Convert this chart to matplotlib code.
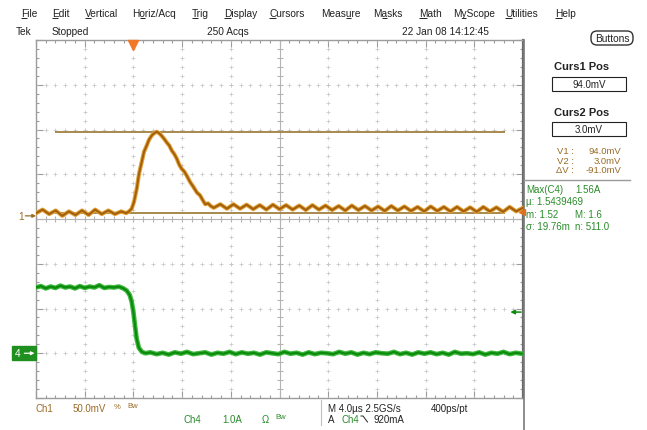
import matplotlib
matplotlib.use("Agg")
import matplotlib.pyplot as plt
from matplotlib.patches import Rectangle, FancyBboxPatch
import numpy as np

plt.rcParams['font.family'] = ['Liberation Sans', 'DejaVu Sans']

# ---------------- scope settings ----------------
T_DIV = 4.0          # µs / div
T_LEFT = -8.0        # µs at left edge of screen
N_HDIV, N_VDIV = 10, 8
CH1_SCALE = 50.0     # mV / div
CH1_OFFSET = 0.07    # div (ground marker position)
CH4_SCALE = 1.0      # A / div
CH4_OFFSET = -3.0    # div
CURS1_MV = 94.0
CURS2_MV = 3.0
TRIG_LEVEL_A = 0.92

# ---------------- waveforms ----------------
ch1_t = [-8.00, -7.46, -6.92, -6.38, -5.84, -5.30, -4.76, -4.22, -3.68, -3.14,
         -2.60, -2.06, -1.52, -1.00, -0.60, -0.36, -0.14,
         0.05, 0.27, 0.46, 0.68, 0.87, 1.09, 1.28, 1.50, 1.69, 1.91,
         2.10, 2.32, 2.53, 2.74, 2.95, 3.15, 3.36, 3.56, 3.77, 3.97,
         4.18, 4.38, 4.65, 4.92, 5.22, 5.47, 5.72, 5.90, 6.13, 6.35, 6.60,
         7.14, 7.68, 8.22, 8.76, 9.30, 9.84, 10.38, 10.92, 11.46, 12.00,
         12.54, 13.08, 13.62, 14.16, 14.70, 15.24, 15.78, 16.32, 16.86, 17.40,
         17.94, 18.48, 19.02, 19.56, 20.10, 20.64, 21.18, 21.72, 22.26, 22.80,
         23.34, 23.88, 24.42, 24.96, 25.50, 26.04, 26.58, 27.12, 27.66, 28.20,
         28.74, 29.28, 29.82, 30.36, 30.90, 31.44, 32.00]
ch1_mv = [3, 7, 2, 6, 0, 5, 1, 6, 1, 7,
          2, 6, 2, 5, 3, 5, 8,
          15.6, 30, 47, 60, 71.5, 78.5, 85, 89.7, 92.2, 94,
          92.5, 89.5, 86, 82, 78.5, 73, 69, 64, 57, 52.5,
          49.5, 45, 38, 32.5, 26, 23, 17, 13, 14, 11, 9,
          13, 8, 13, 8, 12.5, 7.5, 12, 7, 12.5, 7.5,
          12, 7, 11.5, 6.5, 12, 7, 11.5, 6.5, 11, 6,
          11.5, 6.5, 11, 6, 10.5, 5.5, 11, 6, 10.5, 5.5,
          10, 5, 10.5, 5.5, 10, 5, 10, 5, 9.5, 4.5,
          10, 5, 9.5, 4.5, 10, 5, 9]

ch4_t = [-8.0, -7.6, -7.2, -6.8, -6.4, -6.0, -5.6, -5.2, -4.8, -4.4,
         -4.0, -3.6, -3.2, -2.8, -2.4, -2.0, -1.6, -1.2,
         -0.83, -0.55, -0.30, -0.14, 0.0, 0.13, 0.27, 0.45, 0.70, 1.0,
         1.4, 1.9, 2.4, 2.9, 3.4, 3.9, 4.4, 4.9, 5.4, 5.9,
         6.4, 6.9, 7.4, 7.9, 8.4, 8.9, 9.4, 9.9, 10.4, 10.9,
         11.4, 11.9, 12.4, 12.9, 13.4, 13.9, 14.4, 14.9, 15.4, 15.9,
         16.4, 16.9, 17.4, 17.9, 18.4, 18.9, 19.4, 19.9, 20.4, 20.9,
         21.4, 21.9, 22.4, 22.9, 23.4, 23.9, 24.4, 24.9, 25.4, 25.9,
         26.4, 26.9, 27.4, 27.9, 28.4, 28.9, 29.4, 29.9, 30.4, 30.9,
         31.4, 31.9]
ch4_a = [1.47, 1.50, 1.45, 1.49, 1.46, 1.51, 1.47, 1.49, 1.45, 1.50,
         1.46, 1.49, 1.47, 1.52, 1.46, 1.48, 1.47, 1.49,
         1.45, 1.40, 1.30, 1.15, 0.92, 0.62, 0.32, 0.12, 0.03, 0.00,
         0.02, -0.02, 0.01, -0.03, 0.02, -0.01, 0.03, -0.02, 0.00, 0.02,
         -0.03, 0.01, -0.01, 0.03, -0.02, 0.02, -0.01, 0.01, -0.03, 0.02,
         0.00, -0.02, 0.03, -0.01, 0.01, -0.03, 0.02, -0.02, 0.01, 0.00,
         -0.02, 0.03, -0.01, 0.02, -0.03, 0.01, -0.02, 0.02, 0.00, -0.01,
         0.03, -0.02, 0.01, -0.03, 0.02, -0.01, 0.02, -0.02, 0.01, -0.03,
         0.03, -0.01, 0.00, -0.02, 0.02, -0.03, 0.01, -0.01, 0.03, -0.02,
         0.01, -0.01]

menu_items = ["File", "Edit", "Vertical", "Horiz/Acq", "Trig", "Display", "Cursors",
              "Measure", "Masks", "Math", "MyScope", "Utilities", "Help"]
menu_hotkeys = [0, 0, 0, 1, 0, 0, 0, 4, 1, 0, 1, 0, 0]
menu_x = [21, 52, 85, 132, 192, 224, 269, 321, 373, 419, 453, 505, 555]

meas_rows = [("Max(C4)", "1.56A"), ("\u00b5: 1.5439469", ""),
             ("m: 1.52", "M: 1.6"), ("\u03c3: 19.76m", "n: 511.0")]

# ---------------- colours ----------------
BROWN_TXT = '#9a6b28'
GREEN_TXT = '#2a8c2a'
CH1_OUT, CH1_IN = '#e2a43a', '#a45f0c'
CH4_OUT, CH4_IN = '#3fb83f', '#0b8a0b'
CURSOR = '#a08040'
GRID = '#c4c4c4'
FRAME = '#9c9c9c'
DARK = '#222222'

W, H = 647, 431
L, R, T, B = 36, 523, 41, 399

fig = plt.figure(figsize=(W / 100, H / 100), dpi=100)
fig.patch.set_facecolor('white')

ax = fig.add_axes([L / W, 1 - B / H, (R - L) / W, (B - T) / H])
t_right = T_LEFT + N_HDIV * T_DIV
ax.set_xlim(T_LEFT, t_right)
ax.set_ylim(-N_VDIV / 2, N_VDIV / 2)
ax.set_xticks(np.arange(T_LEFT, t_right + 0.01, T_DIV))
ax.set_xticks(np.arange(T_LEFT, t_right + 0.01, T_DIV / 5), minor=True)
ax.set_yticks(np.arange(-4, 4.01, 1))
ax.set_yticks(np.arange(-4, 4.01, 0.2), minor=True)
ax.tick_params(which='both', direction='in', top=True, right=True, bottom=True, left=True,
               labelbottom=False, labelleft=False, color=FRAME, width=0.8)
ax.tick_params(which='major', length=5)
ax.tick_params(which='minor', length=2.5)
for s in ax.spines.values():
    s.set_color(FRAME)
    s.set_linewidth(1.0)
ax.spines['right'].set_color('#6a6a6a')
ax.spines['right'].set_linewidth(1.6)

# graticule: dotted division lines
t_center = T_LEFT + N_HDIV / 2 * T_DIV
ys_fine = np.arange(-4, 4.01, 0.2)
ts_fine = np.arange(T_LEFT, t_right + 0.01, T_DIV / 5)
for k in range(1, N_HDIV):
    tv = T_LEFT + k * T_DIV
    if abs(tv - t_center) < 1e-6:
        continue
    ax.plot([tv] * len(ys_fine), ys_fine, ls='none', marker='+', ms=2.6, mew=0.5, color=GRID)
for yv in [-3, -2, -1, 1, 2, 3]:
    ax.plot(ts_fine, [yv] * len(ts_fine), ls='none', marker='+', ms=2.6, mew=0.5, color=GRID)
# centre lines with tick marks
ax.axvline(t_center, color='#b4b4b4', lw=0.8)
ax.axhline(0, color='#b4b4b4', lw=0.8)
ax.plot([t_center] * len(ys_fine), ys_fine, ls='none', marker='_', ms=5, mew=0.8, color='#b4b4b4')
ax.plot(ts_fine, [0] * len(ts_fine), ls='none', marker='|', ms=5, mew=0.8, color='#b4b4b4')

# cursors
for mv in (CURS1_MV, CURS2_MV):
    ax.hlines(mv / CH1_SCALE + CH1_OFFSET, -6.4, 30.5, color=CURSOR, lw=1.3, zorder=3)

# traces
y1 = np.array(ch1_mv) / CH1_SCALE + CH1_OFFSET
y4 = np.array(ch4_a) / CH4_SCALE + CH4_OFFSET
ax.plot(ch1_t, y1, color=CH1_OUT, lw=3.0, solid_joinstyle='round', zorder=4)
ax.plot(ch1_t, y1, color=CH1_IN, lw=1.5, solid_joinstyle='round', zorder=5)
ax.plot(ch4_t, y4, color=CH4_OUT, lw=3.4, solid_joinstyle='round', zorder=4)
ax.plot(ch4_t, y4, color=CH4_IN, lw=1.6, solid_joinstyle='round', zorder=5)

# trigger position and level markers
ax.plot([0], [0.985], marker='v', ms=7, color='#f07828', mec='#f07828',
        transform=ax.get_xaxis_transform(), clip_on=False, zorder=6)
trig_y = TRIG_LEVEL_A / CH4_SCALE + CH4_OFFSET
ax.annotate('', xy=(0.974, trig_y), xycoords=('axes fraction', 'data'),
            xytext=(0.996, trig_y), textcoords=('axes fraction', 'data'),
            arrowprops=dict(arrowstyle='-|>', color=CH4_IN, lw=1.1, mutation_scale=6,
                            shrinkA=0, shrinkB=0),
            annotation_clip=False)

# channel ground markers
yt = ax.get_yaxis_transform()
ax.text(-0.025, CH1_OFFSET, '1', transform=yt, ha='right', va='center', fontsize=7.3,
        color=BROWN_TXT, clip_on=False)
ax.annotate('', xy=(0.0, CH1_OFFSET), xycoords=yt, xytext=(-0.022, CH1_OFFSET),
            textcoords=yt, arrowprops=dict(arrowstyle='-|>', color=BROWN_TXT, lw=0.9,
                                           mutation_scale=5, shrinkA=0, shrinkB=0),
            annotation_clip=False)
ax.add_patch(Rectangle((-0.05, CH4_OFFSET - 0.16), 0.05, 0.32, transform=yt,
                       color='#1f8f1f', clip_on=False, zorder=6))
ax.text(-0.037, CH4_OFFSET, '4', transform=yt, ha='center', va='center', fontsize=7.3,
        color='white', clip_on=False, zorder=7)
ax.annotate('', xy=(-0.003, CH4_OFFSET), xycoords=yt, xytext=(-0.024, CH4_OFFSET),
            textcoords=yt, arrowprops=dict(arrowstyle='-|>', color='white', lw=0.9,
                                           mutation_scale=5, shrinkA=0, shrinkB=0),
            annotation_clip=False, zorder=7)

# ---------------- overlay in pixel coordinates ----------------
ov = fig.add_axes([0, 0, 1, 1])
ov.set_xlim(0, W)
ov.set_ylim(H, 0)
ov.axis('off')
ov.patch.set_alpha(0)


def txt(x, y, s, color=DARK, size=7.3, ha='left', **kw):
    return ov.text(x, y, s, color=color, fontsize=size, ha=ha, va='center', **kw)


renderer = fig.canvas.get_renderer()


def text_width(x, y, s, size):
    if not s:
        return 0.0
    tmp = txt(x, y, s, size=size)
    w = tmp.get_window_extent(renderer).width
    tmp.remove()
    return w


# menu bar with underlined access keys
MENU_Y = 14
for label, key, x in zip(menu_items, menu_hotkeys, menu_x):
    txt(x, MENU_Y, label, size=7.3)
    x0 = x + text_width(x, MENU_Y, label[:key], 7.3)
    x1 = x + text_width(x, MENU_Y, label[:key + 1], 7.3)
    uy = MENU_Y + 4.6
    ov.plot([x0 + 0.3, x1 - 0.3], [uy, uy], color=DARK, lw=0.7, solid_capstyle='butt')

# status row
txt(16, 32, 'Tek', size=7.3)
txt(52, 32, 'Stopped', size=7.3)
txt(207, 32, '250 Acqs', size=7.3)
txt(402, 32, '22 Jan 08 14:12:45', size=7.3)
ov.add_patch(FancyBboxPatch((591, 32), 42, 14, boxstyle='round,pad=0,rounding_size=6',
                            fc='white', ec='#333333', lw=1.0))
txt(612, 39.5, 'Buttons', size=7.3, ha='center')

# right-hand panel
ov.plot([524, 524], [T, H], color='#7a7a7a', lw=1.2)
txt(582, 67, 'Curs1 Pos', size=8, ha='center', fontweight='bold')
ov.add_patch(Rectangle((552, 78), 74, 14, fc='white', ec='#222222', lw=0.8))
txt(589, 85.5, f'{CURS1_MV:.1f}mV', size=7, ha='center')
txt(582, 113, 'Curs2 Pos', size=8, ha='center', fontweight='bold')
ov.add_patch(Rectangle((552, 123), 74, 14, fc='white', ec='#222222', lw=0.8))
txt(589, 130.5, f'{CURS2_MV:.1f}mV', size=7, ha='center')
cur_rows = [('V1 :', f'{CURS1_MV:.1f}mV'), ('V2 :', f'{CURS2_MV:.1f}mV'),
            ('\u0394V :', f'{CURS2_MV - CURS1_MV:.1f}mV')]
for i, (a, b) in enumerate(cur_rows):
    yy = 152 + i * 9.3
    txt(574, yy, a, color=BROWN_TXT, size=6.8, ha='right')
    txt(621, yy, b, color=BROWN_TXT, size=6.8, ha='right')
ov.plot([524, 630], [181, 181], color='#9a9a9a', lw=1.0)
for i, (a, b) in enumerate(meas_rows):
    yy = 190 + i * 12.3
    txt(526, yy, a, color=GREEN_TXT, size=7)
    if b:
        txt(575, yy, b, color=GREEN_TXT, size=7)
ov.plot([521.5], [213], marker='<', ms=4, color='#e07020', clip_on=False)

# bottom status area
ov.plot([321, 321], [401, 426], color='#c0c0c0', lw=0.8)
txt(36, 409, 'Ch1', color=BROWN_TXT, size=7)
txt(73, 409, f'{CH1_SCALE:.1f}mV', color=BROWN_TXT, size=7)
txt(114, 408, '%', color=BROWN_TXT, size=5.5)
txt(127, 406.5, 'Bw', color=BROWN_TXT, size=5.5)
txt(183, 420, 'Ch4', color=GREEN_TXT, size=7)
txt(222, 420, f'{CH4_SCALE:.1f}A', color=GREEN_TXT, size=7)
txt(262, 420, '\u03a9', color=GREEN_TXT, size=7)
txt(275, 418, 'Bw', color=GREEN_TXT, size=5.5)
txt(328, 409, f'M {T_DIV:.1f}\u00b5s 2.5GS/s', size=7)
txt(431, 409, '400ps/pt', size=7)
txt(328, 420, 'A', size=7)
txt(341, 420, 'Ch4', color=GREEN_TXT, size=7)
ov.plot([361, 363, 367.5], [417, 417, 423], color=DARK, lw=0.7)
txt(373, 420, f'{TRIG_LEVEL_A * 1000:.0f}mA', size=7)

fig.savefig('out.png', dpi=100, facecolor='white')
